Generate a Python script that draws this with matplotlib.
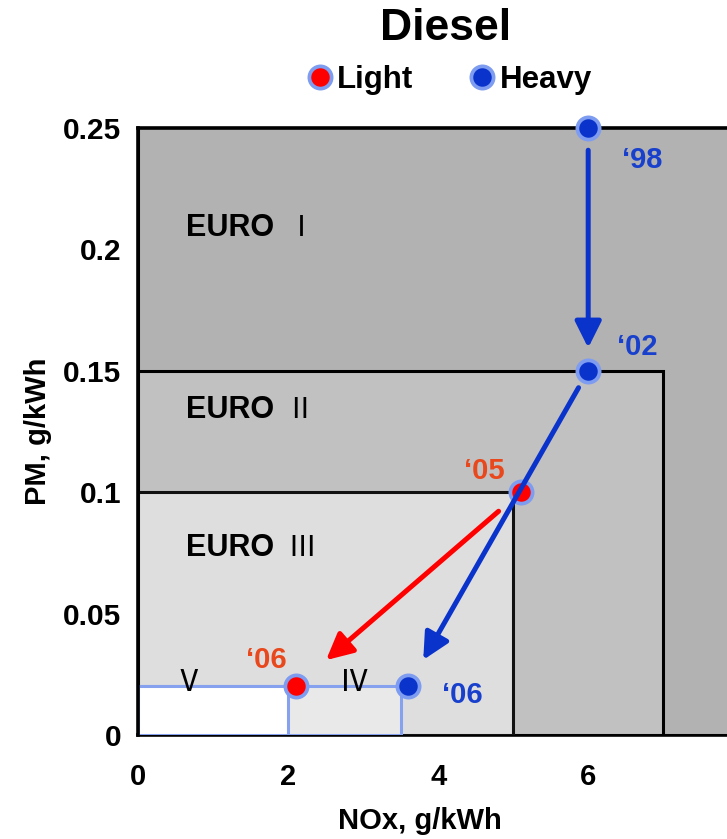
import matplotlib
matplotlib.use("Agg")
import matplotlib.pyplot as plt
from matplotlib.patches import Rectangle
from matplotlib.lines import Line2D

# ---------------- data ----------------
euro_stages = ["Ⅰ", "Ⅱ", "Ⅲ", "Ⅳ", "Ⅴ"]
euro_nox_limit = [8.0, 7.0, 5.0, 3.5, 2.0]
euro_pm_limit = [0.36, 0.15, 0.10, 0.02, 0.02]

heavy_years = ["\u201898", "\u201802", "\u201806"]
heavy_nox = [6.0, 6.0, 3.6]
heavy_pm = [0.25, 0.15, 0.02]

light_years = ["\u201805", "\u201806"]
light_nox = [5.1, 2.1]
light_pm = [0.10, 0.02]

x_ticks = [0, 2, 4, 6]
x_ticklabels = ["0", "2", "4", "6"]
y_ticks = [0, 0.05, 0.10, 0.15, 0.20, 0.25]
y_ticklabels = ["0", "0.05", "0.1", "0.15", "0.2", "0.25"]

# ---------------- style ----------------
FONT = "Liberation Sans"
CJK = ["Noto Sans CJK JP", "DejaVu Sans"]
euro_fill = ["#b2b2b2", "#c1c1c1", "#dedede", "#e9e9e9", "#ffffff"]
euro_edge = ["black", "black", "#111111", "#86a2ee", "#86a2ee"]
blue = "#0a33cc"
blue_txt = "#1840cc"
red = "#ff0000"
orange_txt = "#e8481c"
marker_edge = "#7f9df0"
MS, MEW = 16, 2.7

plt.rcParams["font.family"] = [FONT, "DejaVu Sans"]

fig = plt.figure(figsize=(7.27, 8.39), dpi=100)
W, H = 727, 839
ax = fig.add_axes([138 / W, (H - 735) / H, (W - 138) / W, (735 - 128) / H])
ax.set_xlim(0, 7.85)
ax.set_ylim(0, 0.25)

# regulation boxes
for i in range(len(euro_stages)):
    ax.add_patch(Rectangle((0, 0), euro_nox_limit[i], euro_pm_limit[i],
                           facecolor=euro_fill[i], edgecolor=euro_edge[i],
                           lw=2.2, zorder=1 + i * 0.1))

# stage labels
label_pos = [(0.64, 0.209), (0.64, 0.134), (0.64, 0.077)]
num_pos = [2.18, 2.15, 2.18]
for i in range(3):
    ax.text(label_pos[i][0], label_pos[i][1], "EURO", fontsize=22, fontweight="bold",
            ha="left", va="center", zorder=3)
    ax.text(num_pos[i], label_pos[i][1], euro_stages[i], fontsize=21, family=CJK,
            ha="center", va="center", zorder=3)
ax.text(0.67, 0.0215, euro_stages[4], fontsize=22, family=CJK, ha="center", va="center", zorder=3)
ax.text(2.88, 0.0215, euro_stages[3], fontsize=22, family=CJK, ha="center", va="center", zorder=3)

# arrows (from each point to the next)
heavy_shrink = [(16, 16.5), (14, 22)]
for i in range(len(heavy_nox) - 1):
    ax.annotate("", xy=(heavy_nox[i + 1], heavy_pm[i + 1]), xytext=(heavy_nox[i], heavy_pm[i]),
                arrowprops=dict(arrowstyle="-|>,head_length=0.8,head_width=0.4", color=blue,
                                lw=3.6, shrinkA=heavy_shrink[i][0], shrinkB=heavy_shrink[i][1],
                                mutation_scale=20),
                zorder=6, annotation_clip=False)
light_shrink = [(21, 29)]
for i in range(len(light_nox) - 1):
    ax.annotate("", xy=(light_nox[i + 1], light_pm[i + 1]), xytext=(light_nox[i], light_pm[i]),
                arrowprops=dict(arrowstyle="-|>,head_length=0.8,head_width=0.4", color=red,
                                lw=3.6, shrinkA=light_shrink[i][0], shrinkB=light_shrink[i][1],
                                mutation_scale=20),
                zorder=6, annotation_clip=False)

# points
ax.plot(light_nox, light_pm, ls="", marker="o", ms=MS, mfc=red, mec=marker_edge, mew=MEW,
        zorder=5, clip_on=False)
ax.plot(heavy_nox, heavy_pm, ls="", marker="o", ms=MS, mfc=blue, mec=marker_edge, mew=MEW,
        zorder=7, clip_on=False)

# year labels
heavy_off = [(39, -23), (35, 17), (39, -6)]
for i, t in enumerate(heavy_years):
    ax.annotate(t, (heavy_nox[i], heavy_pm[i]), xytext=heavy_off[i], textcoords="offset points",
                ha="center", va="center", fontsize=21, fontweight="bold", color=blue_txt,
                zorder=8, annotation_clip=False)
light_off = [(-26, 15), (-21, 19)]
for i, t in enumerate(light_years):
    ax.annotate(t, (light_nox[i], light_pm[i]), xytext=light_off[i], textcoords="offset points",
                ha="center", va="center", fontsize=21, fontweight="bold", color=orange_txt,
                zorder=8, annotation_clip=False)

# axes styling
for s in ["left", "bottom", "top"]:
    ax.spines[s].set_linewidth(2.6)
    ax.spines[s].set_color("black")
    ax.spines[s].set_zorder(4)
ax.spines["right"].set_visible(False)
ax.spines["bottom"].set_zorder(0.5)
ax.set_xticks(x_ticks)
ax.set_xticklabels(x_ticklabels)
ax.set_yticks(y_ticks)
ax.set_yticklabels(y_ticklabels)
ax.tick_params(length=0)
ax.tick_params(axis="x", pad=20, labelsize=21)
ax.tick_params(axis="y", pad=12, labelsize=21.5)
for lab in ax.get_xticklabels() + ax.get_yticklabels():
    lab.set_fontweight("bold")

ax.set_xlabel("NOx, g/kWh", fontsize=21, fontweight="bold", labelpad=12)
ax.xaxis.label.set_x(0.479)
ax.set_ylabel("PM, g/kWh", fontsize=21, fontweight="bold", labelpad=8)

fig.text(446 / W, 1 - 29 / H, "Diesel", ha="center", va="center", fontsize=32, fontweight="bold")

handles = [Line2D([], [], ls="", marker="o", ms=MS, mfc=red, mec=marker_edge, mew=MEW),
           Line2D([], [], ls="", marker="o", ms=MS, mfc=blue, mec=marker_edge, mew=MEW)]
leg = fig.legend(handles, ["Light", "Heavy"], loc="center", bbox_to_anchor=(448 / W, 1 - 80 / H),
                 ncol=2, frameon=False, handletextpad=0.05, columnspacing=1.7,
                 handlelength=1.0, prop={"size": 22.5, "weight": "bold", "family": FONT})

fig.savefig("out.png", dpi=100)
